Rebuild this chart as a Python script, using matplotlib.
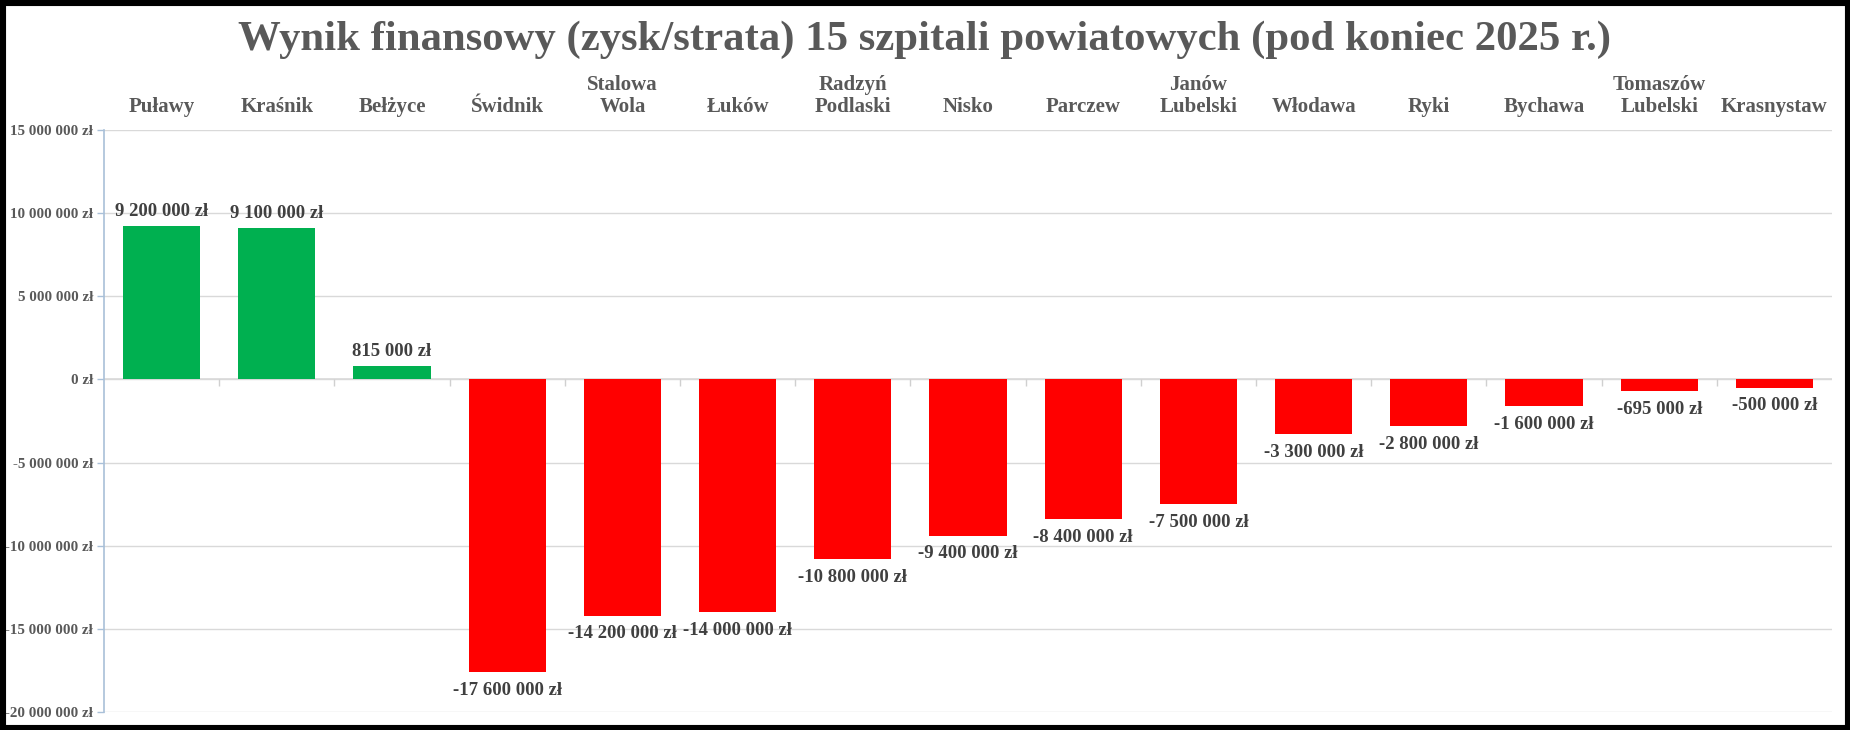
import matplotlib
matplotlib.use("Agg")
import matplotlib.pyplot as plt
from matplotlib.patches import Rectangle
from matplotlib.ticker import FixedLocator
import matplotlib.transforms as mtransforms

categories = ["Puławy", "Kraśnik", "Bełżyce", "Świdnik", "Stalowa\nWola", "Łuków",
              "Radzyń\nPodlaski", "Nisko", "Parczew", "Janów\nLubelski", "Włodawa",
              "Ryki", "Bychawa", "Tomaszów\nLubelski", "Krasnystaw"]
values = [9200000, 9100000, 815000, -17600000, -14200000, -14000000, -10800000,
          -9400000, -8400000, -7500000, -3300000, -2800000, -1600000, -695000, -500000]
yticks = [15000000, 10000000, 5000000, 0, -5000000, -10000000, -15000000, -20000000]
title = "Wynik finansowy (zysk/strata) 15 szpitali powiatowych (pod koniec 2025 r.)"

FONT = "Liberation Serif"
GRAY = "#595959"
LABEL = "#404040"
GREEN = "#00B050"
RED = "#FF0000"


def fmt(v):
    s = f"{abs(int(v)):,}".replace(",", " ")
    return ("-" if v < 0 else "") + s + " zł"


W, H, DPI = 1850, 730, 100
fig = plt.figure(figsize=(W / DPI, H / DPI), dpi=DPI, facecolor="white")
ax = fig.add_axes([104 / W, 1 - 712 / H, (1832 - 104) / W, (712 - 130) / H])

x = list(range(len(categories)))
colors = [GREEN if v >= 0 else RED for v in values]
ax.bar(x, values, width=0.67, color=colors, zorder=3)

ax.set_xlim(-0.5, len(categories) - 0.5)
ax.set_ylim(-20000000, 15000000)
ax.yaxis.set_major_locator(FixedLocator(yticks))
ax.set_yticklabels([fmt(v) for v in yticks], fontfamily=FONT, fontweight="bold",
                   fontsize=10.8, color=GRAY)
ax.tick_params(axis="y", direction="out", length=5, width=1, color="#A9C0D8", pad=3)
ax.set_xticks([])
for s in ["top", "right", "bottom"]:
    ax.spines[s].set_visible(False)
ax.spines["left"].set_color("#A9C0D8")
ax.spines["left"].set_linewidth(1.2)
ax.grid(axis="y", color="#D9D9D9", linewidth=1, zorder=0)
ax.set_axisbelow(True)

# zero line with category boundary ticks
ax.axhline(0, color="#D9D9D9", linewidth=1.2, zorder=2)
bounds = [i + 0.5 for i in range(len(categories) - 1)]
ax.plot(bounds, [0] * len(bounds), linestyle="none", marker=3, markersize=5,
        color="#D0D0D0", zorder=2, clip_on=False)

# data labels
for xi, v in zip(x, values):
    if v >= 0:
        ax.annotate(fmt(v), (xi, v), xytext=(0, 4.5), textcoords="offset points",
                    ha="center", va="bottom", fontfamily=FONT, fontweight="bold",
                    fontsize=13.5, color=LABEL, zorder=4)
    else:
        ax.annotate(fmt(v), (xi, v), xytext=(0, -13), textcoords="offset points",
                    ha="center", va="center", fontfamily=FONT, fontweight="bold",
                    fontsize=13.5, color=LABEL, zorder=4)

# category labels above plot
trans = mtransforms.blended_transform_factory(ax.transData, ax.transAxes)
for xi, c in zip(x, categories):
    ax.annotate(c, (xi, 1), xycoords=trans, xytext=(0, 9.5), textcoords="offset points",
                ha="center", va="bottom", fontfamily=FONT, fontweight="bold",
                fontsize=15, color=GRAY, linespacing=1.1, annotation_clip=False)

fig.text(925 / W, 1 - 40 / H, title, ha="center", va="center", fontfamily=FONT,
         fontweight="bold", fontsize=30.8, color=GRAY)

# black frame
fig.patches.append(Rectangle((0, 0), 1, 1, transform=fig.transFigure, fill=False,
                             edgecolor="black", linewidth=8, zorder=10))

fig.savefig("out.png", dpi=DPI, facecolor="white")
